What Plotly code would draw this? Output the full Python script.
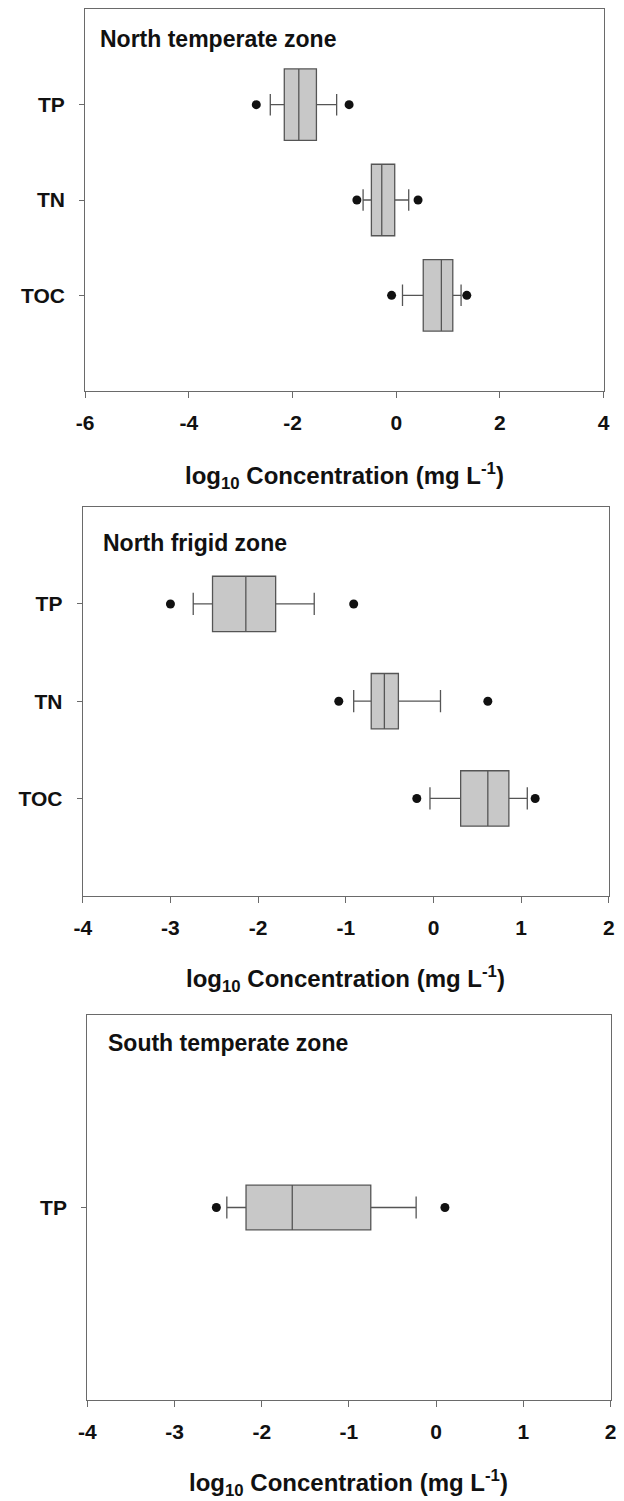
import plotly.graph_objects as go

# ---------------- data ----------------
zone_titles = ["North temperate zone", "North frigid zone", "South temperate zone"]

nt_categories = ["TP", "TN", "TOC"]
nt_low_outlier = [-2.70, -0.76, -0.09]
nt_lower_whisker = [-2.43, -0.64, 0.12]
nt_q1 = [-2.16, -0.48, 0.52]
nt_median = [-1.88, -0.28, 0.87]
nt_q3 = [-1.54, -0.03, 1.09]
nt_upper_whisker = [-1.15, 0.24, 1.25]
nt_high_outlier = [-0.91, 0.42, 1.36]

nf_categories = ["TP", "TN", "TOC"]
nf_low_outlier = [-3.00, -1.08, -0.19]
nf_lower_whisker = [-2.74, -0.91, -0.04]
nf_q1 = [-2.52, -0.71, 0.31]
nf_median = [-2.14, -0.56, 0.62]
nf_q3 = [-1.80, -0.40, 0.86]
nf_upper_whisker = [-1.36, 0.08, 1.07]
nf_high_outlier = [-0.91, 0.62, 1.16]

st_categories = ["TP"]
st_low_outlier = [-2.52]
st_lower_whisker = [-2.40]
st_q1 = [-2.18]
st_median = [-1.65]
st_q3 = [-0.75]
st_upper_whisker = [-0.23]
st_high_outlier = [0.10]

nt_xticks = [-6, -4, -2, 0, 2, 4]
nf_xticks = [-4, -3, -2, -1, 0, 1, 2]
st_xticks = [-4, -3, -2, -1, 0, 1, 2]

# ---------------- layout constants ----------------
# The page body has a default 8px margin, so the figure is drawn at (8, 8).
OFF = 8
PAGE_W, PAGE_H = 624, 1501
W, H = PAGE_W - OFF, PAGE_H - OFF
FONT = "Liberation Sans, Arial, sans-serif"
FRAME = "#6a6a6a"
BOXLINE = "#555555"
FILL = "#c8c8c8"
TXT = "#111111"

panels = [
    dict(cats=nt_categories, lo=nt_low_outlier, lw=nt_lower_whisker, q1=nt_q1, med=nt_median,
         q3=nt_q3, uw=nt_upper_whisker, hi=nt_high_outlier, ticks=nt_xticks,
         px=(77.9, 609.3), py=(9.3, 390.7), yr=(0, 4), bw=0.75, ww=0.30,
         title_xy=(91, 39), axtitle_y=476),
    dict(cats=nf_categories, lo=nf_low_outlier, lw=nf_lower_whisker, q1=nf_q1, med=nf_median,
         q3=nf_q3, uw=nf_upper_whisker, hi=nf_high_outlier, ticks=nf_xticks,
         px=(75.4, 614.6), py=(506.7, 895.7), yr=(0, 4), bw=0.57, ww=0.40,
         title_xy=(94, 543), axtitle_y=979),
    dict(cats=st_categories, lo=st_low_outlier, lw=st_lower_whisker, q1=st_q1, med=st_median,
         q3=st_q3, uw=st_upper_whisker, hi=st_high_outlier, ticks=st_xticks,
         px=(80.0, 616.5), py=(1015.0, 1400.0), yr=(0, 2), bw=0.232, ww=0.49,
         title_xy=(99, 1043), axtitle_y=1483),
]


def fx(v):
    return (v - OFF) / W


def fy(v):
    return 1 - (v - OFF) / H


fig = go.Figure()
annotations = []
for i, p in enumerate(panels):
    n = i + 1
    xa = "x" if n == 1 else f"x{n}"
    ya = "y" if n == 1 else f"y{n}"
    pos = list(range(len(p["cats"]), 0, -1))
    for j, c in enumerate(p["cats"]):
        fig.add_trace(go.Box(
            orientation="h", y=[pos[j]], q1=[p["q1"][j]], median=[p["med"][j]],
            q3=[p["q3"][j]], lowerfence=[p["lw"][j]], upperfence=[p["uw"][j]],
            width=p["bw"], whiskerwidth=p["ww"], fillcolor=FILL,
            line=dict(color=BOXLINE, width=1.3), boxpoints=False,
            showlegend=False, name=c, xaxis=xa, yaxis=ya, hoverinfo="skip"))
        fig.add_trace(go.Scatter(
            x=[p["lo"][j], p["hi"][j]], y=[pos[j], pos[j]], mode="markers",
            marker=dict(color=TXT, size=9), showlegend=False,
            xaxis=xa, yaxis=ya, hoverinfo="skip"))
    xdom = [fx(p["px"][0]), fx(p["px"][1])]
    ydom = [fy(p["py"][1]), fy(p["py"][0])]
    xkey = "xaxis" if n == 1 else f"xaxis{n}"
    ykey = "yaxis" if n == 1 else f"yaxis{n}"
    fig.update_layout(**{
        xkey: dict(domain=xdom, anchor=ya, range=[p["ticks"][0], p["ticks"][-1]],
                   tickvals=p["ticks"], ticktext=[str(t) for t in p["ticks"]],
                   showline=True, mirror=True, linecolor=FRAME, linewidth=1.2,
                   ticks="outside", ticklen=6, tickcolor=FRAME, tickwidth=1.2,
                   showgrid=False, zeroline=False, ticklabelstandoff=7,
                   tickfont=dict(family=FONT, size=21, color=TXT, weight="bold")),
        ykey: dict(domain=ydom, anchor=xa, range=list(p["yr"]),
                   tickvals=pos, ticktext=p["cats"],
                   showline=True, mirror=True, linecolor=FRAME, linewidth=1.2,
                   ticks="outside", ticklen=5, tickcolor=FRAME, tickwidth=1.2,
                   showgrid=False, zeroline=False, ticklabelstandoff=10,
                   tickfont=dict(family=FONT, size=21, color=TXT, weight="bold")),
    })
    annotations.append(dict(
        text=zone_titles[i], xref="paper", yref="paper",
        x=fx(p["title_xy"][0]), y=fy(p["title_xy"][1]),
        xanchor="left", yanchor="middle", showarrow=False,
        font=dict(family=FONT, size=23, color=TXT, weight="bold")))
    annotations.append(dict(
        text="log<sub>10</sub> Concentration (mg L<sup>-1</sup>)", xref="paper", yref="paper",
        x=fx((p["px"][0] + p["px"][1]) / 2), y=fy(p["axtitle_y"]),
        xanchor="center", yanchor="middle", showarrow=False,
        font=dict(family=FONT, size=24, color=TXT, weight="bold")))

fig.update_layout(
    width=W, height=H, margin=dict(l=0, r=0, t=0, b=0),
    paper_bgcolor="white", plot_bgcolor="white",
    annotations=annotations, showlegend=False,
)

fig.write_html("out.html")
